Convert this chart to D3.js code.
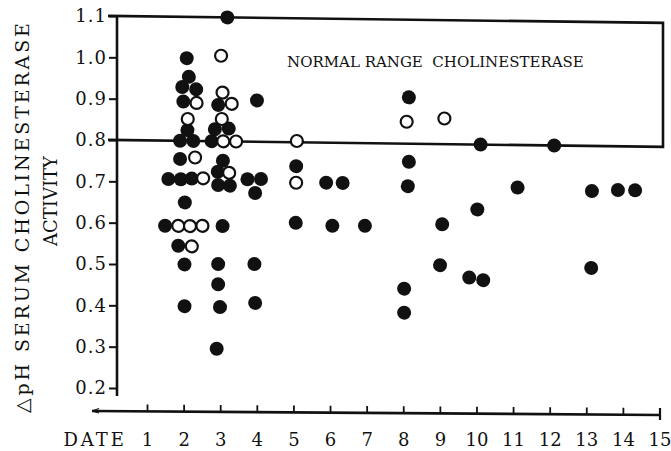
<!DOCTYPE html>
<html>
<head>
<meta charset="utf-8">
<script src="https://cdn.jsdelivr.net/npm/d3@7"></script>
<style>
body{margin:0;background:#fff;}
svg{display:block;}
text{font-family:"DejaVu Serif", serif;}
</style>
</head>
<body>
<svg id="chart" width="671" height="451"></svg>
<script>
// values: date (x) and delta pH (y)
var filledDate = [3.18, 2.07, 2.13, 1.95, 2.33, 1.98, 2.93, 3.99, 2.09, 2.84,
	3.22, 1.89, 2.25, 2.75, 1.89, 3.06, 2.92, 1.57, 1.91, 2.21,
	2.93, 3.25, 3.73, 4.10, 3.94, 2.02, 1.48, 3.05, 1.84, 2.01,
	2.93, 3.92, 2.93, 2.01, 2.98, 3.94, 2.89, 5.06, 5.88, 6.33,
	5.05, 6.05, 6.94, 8.14, 10.10, 8.14, 8.11, 11.11, 10.01, 9.05,
	8.99, 9.79, 10.17, 8.01, 8.01, 12.11, 13.14, 13.85, 14.32, 13.12];
var filledValue = [1.10, 1.00, 0.955, 0.93, 0.925, 0.895, 0.888, 0.90, 0.826, 0.829,
	0.831, 0.80, 0.80, 0.80, 0.756, 0.753, 0.726, 0.707, 0.707, 0.709,
	0.694, 0.693, 0.709, 0.71, 0.676, 0.651, 0.594, 0.595, 0.546, 0.501,
	0.503, 0.504, 0.454, 0.40, 0.399, 0.41, 0.298, 0.742, 0.703, 0.703,
	0.605, 0.599, 0.60, 0.912, 0.80, 0.756, 0.697, 0.697, 0.643, 0.606,
	0.507, 0.478, 0.472, 0.449, 0.391, 0.80, 0.691, 0.694, 0.694, 0.505];
var openDate = [3.01, 3.05, 2.34, 3.30, 2.10, 3.03, 3.07, 3.42, 2.30, 3.23,
	2.52, 1.84, 2.16, 2.50, 2.21, 5.08, 5.06, 8.08, 9.11];
var openValue = [1.007, 0.918, 0.892, 0.891, 0.853, 0.854, 0.80, 0.80, 0.76, 0.724,
	0.71, 0.594, 0.594, 0.595, 0.545, 0.803, 0.702, 0.853, 0.862];

var yTicks = [0.2, 0.3, 0.4, 0.5, 0.6, 0.7, 0.8, 0.9, 1.0, 1.1];
var xTicks = [1, 2, 3, 4, 5, 6, 7, 8, 9, 10, 11, 12, 13, 14, 15];
var normalRange = [0.8, 1.1];

var ink = "#111";
var axisX = 117;      // left axis sits here
var axisY = 411;      // bottom axis line
var tilt = 0.72;      // the scanned lines run slightly downhill

var svg = d3.select("#chart");
svg.append("rect").attr("width", 671).attr("height", 451).attr("fill", "#fff");

var x = d3.scaleLinear()
	.domain([1, 15])
	.range([147.5, 660]);
var y = d3.scaleLinear()
	.domain([0.2, 1.1])
	.range([388, 16]);

// Y axis
var yAxis = svg.append("g")
	.attr("transform", "translate(" + axisX + ",0)")
	.call(d3.axisLeft(y).tickValues(yTicks).tickFormat(d3.format(".1f")).tickSize(8).tickPadding(2));
yAxis.select(".domain").remove();
yAxis.selectAll("line").attr("stroke", ink).attr("stroke-width", 2);
yAxis.selectAll("text")
	.attr("fill", ink)
	.style("font-size", "18px")
	.style("letter-spacing", "1px");
yAxis.append("line")
	.attr("y1", y(1.1) - 1)
	.attr("y2", y(0.2) + 8)
	.attr("stroke", ink)
	.attr("stroke-width", 2.6);

// tilted layer: normal range box and the points
var plot = svg.append("g")
	.attr("transform", "translate(" + axisX + ",0) skewY(" + tilt + ") translate(" + (-axisX) + ",0)");

var boxLeft = axisX - 9, boxRight = x(15) + 3;
plot.append("path")
	.attr("d", "M" + boxLeft + "," + y(normalRange[1]) + "H" + boxRight + "V" + y(normalRange[0]) + "H" + boxLeft)
	.attr("fill", "none")
	.attr("stroke", ink)
	.attr("stroke-width", 2.6);

plot.selectAll(".filled")
	.data(filledDate)
	.enter()
	.append("circle")
	.attr("class", "filled")
	.attr("cx", function(d){ return x(d) })
	.attr("cy", function(d, i){ return y(filledValue[i]) })
	.attr("r", 7)
	.attr("fill", ink);

plot.selectAll(".open")
	.data(openDate)
	.enter()
	.append("circle")
	.attr("class", "open")
	.attr("cx", function(d){ return x(d) })
	.attr("cy", function(d, i){ return y(openValue[i]) })
	.attr("r", 6)
	.attr("fill", "#fff")
	.attr("stroke", ink)
	.attr("stroke-width", 2.2);

// X axis (line and ticks tilt a little too)
var xAxis = svg.append("g")
	.attr("transform", "translate(92," + axisY + ") skewY(0.4)");
xAxis.append("line")
	.attr("x1", 0)
	.attr("x2", x(15) - 92)
	.attr("stroke", ink)
	.attr("stroke-width", 2.6);
xAxis.selectAll(".tick")
	.data(xTicks.slice(0, -1))
	.enter()
	.append("line")
	.attr("x1", function(d){ return x(d) - 92 })
	.attr("x2", function(d){ return x(d) - 92 })
	.attr("y1", 0)
	.attr("y2", -7)
	.attr("stroke", ink)
	.attr("stroke-width", 1.8);
xAxis.append("line")
	.attr("x1", x(15) - 92)
	.attr("x2", x(15) - 92)
	.attr("y1", -7)
	.attr("y2", 5)
	.attr("stroke", ink)
	.attr("stroke-width", 2.2);
xAxis.append("path")
	.attr("d", "M0,0 l7,-2.5 M0,0 l7,2 M4,-0.5 h12")
	.attr("fill", "none")
	.attr("stroke", ink)
	.attr("stroke-width", 1.2);

svg.append("g")
	.selectAll("text")
	.data(xTicks)
	.enter()
	.append("text")
	.attr("x", function(d){ return x(d) })
	.attr("y", 446)
	.attr("text-anchor", "middle")
	.attr("fill", ink)
	.style("font-size", "18px")
	.text(function(d){ return d });

svg.append("text")
	.attr("x", 127)
	.attr("y", 446)
	.attr("text-anchor", "end")
	.attr("fill", ink)
	.style("font-size", "18px")
	.style("letter-spacing", "3px")
	.text("DATE");

// axis title
svg.append("text")
	.attr("transform", "translate(29,218) rotate(-90)")
	.attr("text-anchor", "middle")
	.attr("fill", ink)
	.attr("textLength", 390)
	.attr("lengthAdjust", "spacing")
	.style("font-size", "19px")
	.text("\u25b3pH SERUM CHOLINESTERASE");
svg.append("text")
	.attr("transform", "translate(57,201) rotate(-90)")
	.attr("text-anchor", "middle")
	.attr("fill", ink)
	.style("font-size", "18px")
	.text("ACTIVITY");

svg.append("text")
	.attr("x", 287)
	.attr("y", 67)
	.attr("fill", ink)
	.style("font-size", "15px")
	.style("white-space", "pre")
	.text("NORMAL RANGE  CHOLINESTERASE");
</script>
</body>
</html>
